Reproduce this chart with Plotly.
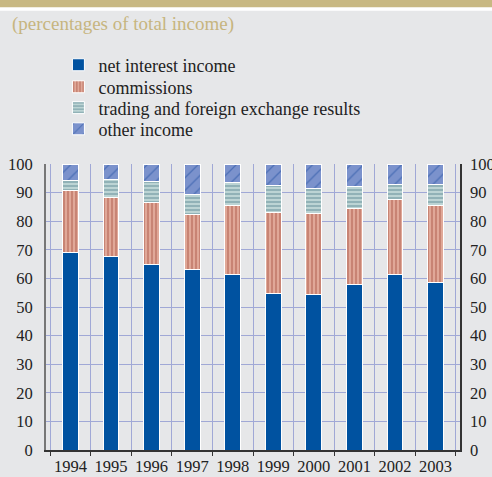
import plotly.graph_objects as go

years = ["1994", "1995", "1996", "1997", "1998", "1999", "2000", "2001", "2002", "2003"]
net_interest = [69.1, 67.8, 64.8, 63.0, 61.2, 54.8, 54.5, 57.7, 61.4, 58.5]
commissions = [21.7, 20.5, 21.6, 19.5, 24.2, 28.1, 28.3, 26.6, 26.3, 27.1]
trading = [3.4, 6.3, 7.5, 7.0, 8.2, 9.5, 8.8, 8.0, 5.1, 7.4]
other = [5.8, 5.4, 6.1, 10.5, 6.4, 7.6, 8.4, 7.7, 7.2, 7.0]

series_names = ["net interest income", "commissions",
                "trading and foreign exchange results", "other income"]

BG = "#e6e7e9"
GRID = "#a0a8d6"
FONT = "Liberation Serif, Times New Roman, DejaVu Serif, serif"
TXT = "#222222"
TICK = 16.5

fig = go.Figure()
line = dict(color="white", width=1)

fig.add_trace(go.Bar(x=years, y=net_interest, name=series_names[0], legend="legend",
                     marker=dict(color="#0052a0", line=line)))
fig.add_trace(go.Bar(x=years, y=commissions, name=series_names[1], legend="legend2",
                     marker=dict(color="#e0a898", line=line,
                                 pattern=dict(shape="|", fgcolor="#b06050",
                                              bgcolor="#e0a898", size=4, solidity=0.5))))
fig.add_trace(go.Bar(x=years, y=trading, name=series_names[2], legend="legend3",
                     marker=dict(color="#bcd4d4", line=line,
                                 pattern=dict(shape="-", fgcolor="#66909a",
                                              bgcolor="#bcd4d4", size=4, solidity=0.5))))
fig.add_trace(go.Bar(x=years, y=other, name=series_names[3], legend="legend4",
                     marker=dict(color="#7b92cc", line=line,
                                 pattern=dict(shape="/", fgcolor="#1f4ea0",
                                              bgcolor="#7b92cc", size=9, solidity=0.15))))
# helper trace so the right-hand axis is drawn
fig.add_trace(go.Scatter(x=years, y=[None] * len(years), yaxis="y2",
                         showlegend=False, hoverinfo="skip"))


def leg(y):
    return dict(x=0.03, y=y, xanchor="left", yanchor="middle",
                bgcolor="rgba(0,0,0,0)", itemclick=False,
                font=dict(family=FONT, size=18, color=TXT))


fig.update_layout(
    width=492, height=477,
    margin=dict(l=46, r=32, t=164, b=27, autoexpand=False),
    paper_bgcolor=BG, plot_bgcolor=BG,
    barmode="stack", bargap=0.61,
    font=dict(family=FONT, size=TICK, color=TXT),
    showlegend=True,
    legend=leg(1.346), legend2=leg(1.269), legend3=leg(1.196), legend4=leg(1.122),
    xaxis=dict(type="category", tickson="boundaries", showgrid=True,
               gridcolor=GRID, gridwidth=1, ticks="outside", ticklen=4,
               tickcolor="#333333", showline=True, linecolor="#333333",
               linewidth=1.5, tickangle=0, automargin=False,
               tickfont=dict(size=TICK, family=FONT, color=TXT)),
    yaxis=dict(range=[0, 100], dtick=10, showgrid=True, gridcolor=GRID,
               gridwidth=1, zeroline=False, showline=True, linecolor="#777777",
               linewidth=2, ticks="", ticklabelstandoff=8, automargin=False,
               tickfont=dict(size=TICK, family=FONT, color=TXT)),
    yaxis2=dict(range=[0, 100], dtick=10, overlaying="y", side="right",
                showgrid=False, zeroline=False, showline=True, automargin=False,
                linecolor="#333333", linewidth=1.5, ticks="", ticklabelstandoff=5,
                tickfont=dict(size=TICK, family=FONT, color=TXT)),
    annotations=[dict(text="(percentages of total income)", xref="paper",
                      yref="paper", x=-0.087, y=1.49, xanchor="left",
                      yanchor="middle", showarrow=False,
                      font=dict(family=FONT, size=19, color="#c6b57f"))],
    shapes=[
        dict(type="rect", xref="paper", yref="paper", x0=-0.2, x1=1.2,
             y0=1.536, y1=1.62, fillcolor="white", line=dict(width=0), layer="above"),
        dict(type="rect", xref="paper", yref="paper", x0=-0.2, x1=1.2,
             y0=1.548, y1=1.62, fillcolor="#c8b882", line=dict(width=0), layer="above"),
    ],
)

fig.write_html("out.html", config={"displayModeBar": False},
               post_script="document.body.style.margin='0';")
